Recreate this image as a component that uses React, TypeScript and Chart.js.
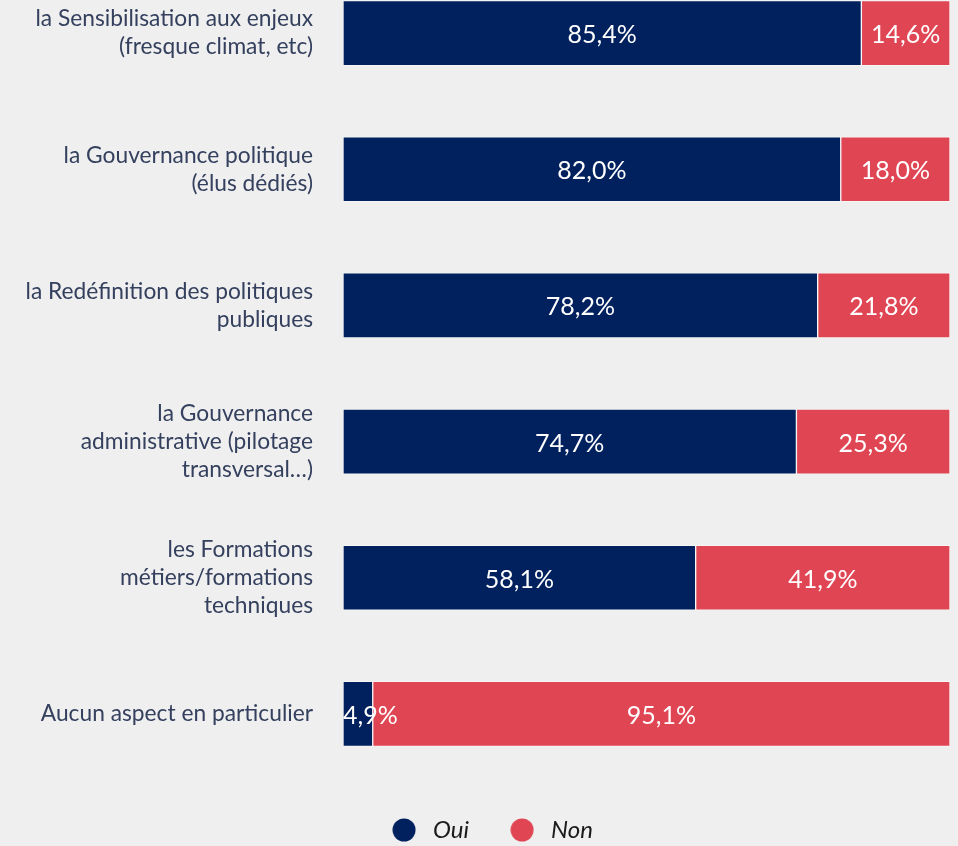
import React, { useEffect, useRef } from "react";
import Chart from "chart.js/auto";

const categories: (string | string[])[] = [
  ["la Sensibilisation aux enjeux", "(fresque climat, etc)"],
  ["la Gouvernance politique", "(élus dédiés)"],
  ["la Redéfinition des politiques", "publiques"],
  ["la Gouvernance", "administrative (pilotage", "transversal…)"],
  ["les Formations", "métiers/formations", "techniques"],
  "Aucun aspect en particulier",
];
const ouiValues = [85.4, 82.0, 78.2, 74.7, 58.1, 4.9];
const nonValues = [14.6, 18.0, 21.8, 25.3, 41.9, 95.1];
const seriesNames = ["Oui", "Non"];

const NAVY = "#00215e";
const RED = "#e04554";

function dot(color: string) {
  const c = document.createElement("canvas");
  c.width = 24;
  c.height = 24;
  const ctx = c.getContext("2d")!;
  ctx.fillStyle = color;
  ctx.beginPath();
  ctx.arc(12, 12, 11.5, 0, Math.PI * 2);
  ctx.fill();
  return c;
}

const valueLabels = {
  id: "valueLabels",
  afterDatasetsDraw(chart: any) {
    const { ctx, chartArea } = chart;
    ctx.save();
    ctx.font = "25px Lato";
    ctx.fillStyle = "#ffffff";
    ctx.textAlign = "center";
    ctx.textBaseline = "middle";
    chart.data.datasets.forEach((ds: any, di: number) => {
      const meta = chart.getDatasetMeta(di);
      meta.data.forEach((bar: any, i: number) => {
        const v = ds.data[i];
        const txt = v.toFixed(1).replace(".", ",") + "%";
        const w = ctx.measureText(txt).width;
        let cx = (bar.x + bar.base) / 2;
        cx = Math.max(cx, chartArea.left + w / 2);
        cx = Math.min(cx, chartArea.right - w / 2);
        ctx.fillText(txt, cx, bar.y + 2);
      });
    });
    ctx.restore();
  },
};

const legendShift = {
  id: "legendShift",
  afterLayout(chart: any) {
    if (chart.legend) {
      chart.legend.left += 15;
      chart.legend.right += 15;
    }
  },
};

export default function App() {
  const ref = useRef<HTMLCanvasElement>(null);
  useEffect(() => {
    const dots = [dot(NAVY), dot(RED)];
    const chart = new Chart(ref.current!, {
      type: "bar",
      data: {
        labels: categories,
        datasets: [
          {
            label: seriesNames[0],
            data: ouiValues,
            backgroundColor: NAVY,
            borderColor: "rgba(255,255,255,0.45)",
            borderWidth: 1,
            borderSkipped: false,
            barThickness: 65,
          },
          {
            label: seriesNames[1],
            data: nonValues,
            backgroundColor: RED,
            borderColor: "rgba(255,255,255,0.45)",
            borderWidth: 1,
            borderSkipped: false,
            barThickness: 65,
          },
        ],
      },
      options: {
        indexAxis: "y",
        animation: false,
        responsive: false,
        devicePixelRatio: 1,
        layout: { padding: { left: 0, right: 8, top: 0, bottom: 0 } },
        scales: {
          x: { stacked: true, display: false, min: 0, max: 100 },
          y: {
            stacked: true,
            grid: { display: false, drawTicks: false },
            border: { display: false },
            ticks: {
              padding: 30,
              color: "#34405e",
              font: { family: "Lato", size: 22.75, lineHeight: 1.23 },
            },
            afterFit: (s: any) => {
              s.width = 343;
              s.paddingTop = 0;
              s.paddingBottom = 0;
            },
          },
        },
        plugins: {
          tooltip: { enabled: false },
          legend: {
            position: "bottom",
            labels: {
              usePointStyle: true,
              pointStyleWidth: 34,
              boxHeight: 24,
              padding: 36,
              color: "#1a1a1a",
              font: { family: "Lato", size: 24, style: "italic" },
              generateLabels: (c: any) =>
                Chart.defaults.plugins.legend.labels
                  .generateLabels(c)
                  .map((l: any, i: number) => ({ ...l, pointStyle: dots[i], lineWidth: 0 })),
            },
          },
        },
      },
      plugins: [valueLabels, legendShift],
    } as any);
    return () => chart.destroy();
  }, []);
  return (
    <div
      style={{
        position: "fixed",
        left: 0,
        top: 0,
        width: 958,
        height: 846,
        overflow: "hidden",
        background: "#efefef",
      }}
    >
      <canvas
        ref={ref}
        width={958}
        height={887}
        style={{ position: "absolute", left: 0, top: -35, display: "block" }}
      />
    </div>
  );
}
